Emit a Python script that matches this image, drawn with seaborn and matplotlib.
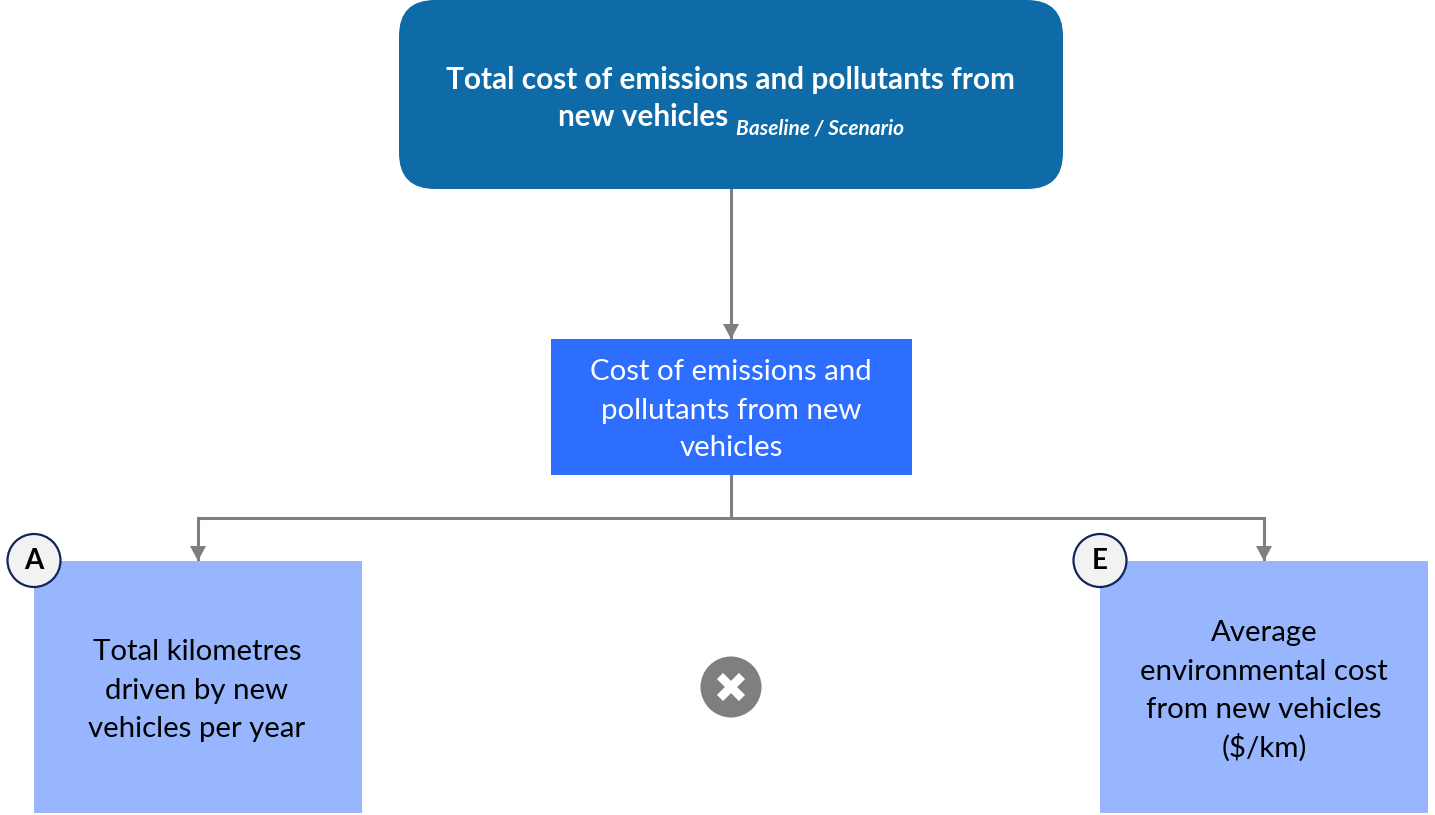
import matplotlib
matplotlib.use('Agg')
import matplotlib.pyplot as plt
from matplotlib.patches import FancyBboxPatch, Rectangle, Circle, Polygon
import seaborn as sns

# box labels
top_line1 = "Total cost of emissions and pollutants from"
top_line2 = "new vehicles"
top_sub = "Baseline / Scenario"
mid_lines = ["Cost of emissions and", "pollutants from new", "vehicles"]
left_lines = ["Total kilometres", "driven by new", "vehicles per year"]
right_lines = ["Average", "environmental cost", "from new vehicles", "($/km)"]
badges = ["A", "E"]

sns.set_theme(style="white")
plt.rcParams['font.family'] = ['Lato', 'DejaVu Sans']

GREY = '#7f7f7f'
DARK = '#0f6ba8'
MID = '#2e6eff'
LIGHT = '#97b6fe'

fig = plt.figure(figsize=(14.35, 8.15), dpi=100)
ax = fig.add_axes([0, 0, 1, 1])
ax.set_xlim(0, 1435)
ax.set_ylim(815, 0)
ax.axis('off')


def arrow_line(xs, ys):
    # connector ending in a small triangle
    ax.plot(xs, ys, color=GREY, lw=2.2, solid_joinstyle='miter', zorder=1)
    x, y = xs[-1], ys[-1]
    ax.add_patch(Polygon([(x - 8, y - 15), (x + 8, y - 15), (x, y)], color=GREY, lw=0, zorder=1))


def text_lines(lines, x, y0, color, size=21.2):
    for i, line in enumerate(lines):
        ax.text(x, y0 + i * 38, line, color=color, fontsize=size, ha='center', va='center_baseline')


# boxes
ax.add_patch(FancyBboxPatch((399 + 36, 0 + 36), 664 - 72, 189 - 72, boxstyle="round,pad=36,rounding_size=36",
                            fc=DARK, ec='none', zorder=2))
ax.add_patch(Rectangle((551, 339), 361, 136, fc=MID, ec='none', zorder=2))
ax.add_patch(Rectangle((34, 561), 328, 252, fc=LIGHT, ec='none', zorder=2))
ax.add_patch(Rectangle((1100, 561), 328, 252, fc=LIGHT, ec='none', zorder=2))

# connectors
arrow_line([731, 731], [189, 339])
ax.plot([731, 731], [475, 518], color=GREY, lw=2.2, zorder=1)
arrow_line([731, 198, 198], [518, 518, 561])
arrow_line([731, 1264, 1264], [518, 518, 561])

# text
ax.text(730.5, 77, top_line1, color='white', fontsize=21.4, fontweight='bold', ha='center', va='center_baseline')
ax.text(558, 114, top_line2, color='white', fontsize=21.4, fontweight='bold', ha='left', va='center_baseline')
ax.text(736, 126.5, top_sub, color='white', fontsize=15, fontweight='bold', style='italic', ha='left',
        va='center_baseline')
text_lines(mid_lines, 731, 370, 'white')
text_lines(left_lines, 197, 650, 'black')
text_lines(right_lines, 1264, 631, 'black')
for t in ax.texts:
    t.set_zorder(3)

# lettered badges
for label, x in zip(badges, [34, 1100]):
    ax.add_patch(Circle((x, 560.5), 26.5, fc='#f2f2f2', ec='#13265c', lw=1.6, zorder=4))
    ax.text(x, 561, label, color='black', fontsize=20, fontweight='bold', ha='center', va='center', zorder=5)

# multiply sign
ax.add_patch(Circle((731, 687), 30.5, fc=GREY, ec='none', zorder=2))
ax.plot([731 - 11, 731 + 11], [687 - 11, 687 + 11], color='white', lw=6.2, solid_capstyle='butt', zorder=3)
ax.plot([731 - 11, 731 + 11], [687 + 11, 687 - 11], color='white', lw=6.2, solid_capstyle='butt', zorder=3)

fig.savefig('out.png', dpi=100, facecolor='white')
